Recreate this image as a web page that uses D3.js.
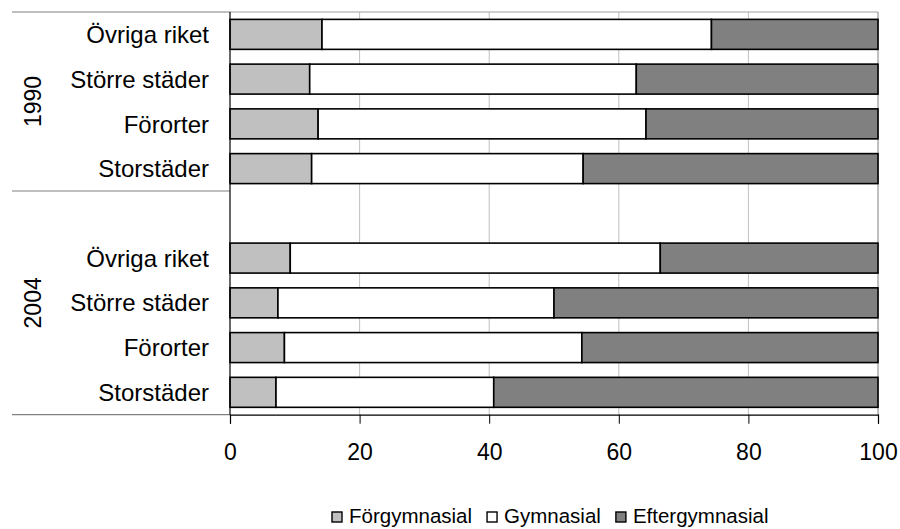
<!DOCTYPE html>
<html>
<head>
<meta charset="utf-8">
<script src="https://cdn.jsdelivr.net/npm/d3@7"></script>
<style>
  body { margin: 0; background: #fff; }
  text { font-family: "Liberation Sans", Arial, sans-serif; fill: #000; }
</style>
</head>
<body>
<div id="chart"></div>
<script>
var width = 900;
var height = 529;

// data (percent)
var years = ['1990', '2004'];
var regions = ['Övriga riket', 'Större städer', 'Förorter', 'Storstäder'];
var keys = ['Förgymnasial', 'Gymnasial', 'Eftergymnasial'];
var forgymnasial1990 = [14.2, 12.3, 13.6, 12.6];
var gymnasial1990 = [60.1, 50.4, 50.6, 41.9];
var eftergymnasial1990 = [25.7, 37.3, 35.8, 45.5];
var forgymnasial2004 = [9.3, 7.4, 8.4, 7.1];
var gymnasial2004 = [57.1, 42.6, 45.9, 33.6];
var eftergymnasial2004 = [33.6, 50.0, 45.7, 59.3];
var xTicks = [0, 20, 40, 60, 80, 100];

var colorArray = ['#c0c0c0', '#ffffff', '#808080'];

var rows = [];
regions.forEach((r, i) => rows.push({
    slot: '1990|' + r, region: r,
    'Förgymnasial': forgymnasial1990[i], 'Gymnasial': gymnasial1990[i], 'Eftergymnasial': eftergymnasial1990[i]
}));
var blankSlot = '2004|';
regions.forEach((r, i) => rows.push({
    slot: '2004|' + r, region: r,
    'Förgymnasial': forgymnasial2004[i], 'Gymnasial': gymnasial2004[i], 'Eftergymnasial': eftergymnasial2004[i]
}));

var slots = rows.slice(0, 4).map(d => d.slot).concat([blankSlot]).concat(rows.slice(4).map(d => d.slot));

var plotLeft = 230, plotRight = 878, plotTop = 12, plotBottom = 414.7;

var x = d3.scaleLinear().domain([0, 100]).range([plotLeft, plotRight]);
var y = d3.scaleBand().domain(slots).range([plotTop, plotBottom]).paddingInner(0.33).paddingOuter(0.165);

var series = d3.stack().keys(keys).order(d3.stackOrderNone).offset(d3.stackOffsetNone)(rows);

var svg = d3.select('#chart')
    .append('svg')
    .attr('width', width)
    .attr('height', height);

// gridlines
svg.append('g')
    .selectAll('line')
    .data(xTicks.slice(1))
    .enter()
    .append('line')
    .attr('x1', d => x(d)).attr('x2', d => x(d))
    .attr('y1', plotTop).attr('y2', plotBottom)
    .attr('stroke', d => d === 100 ? '#808080' : '#c0c0c0')
    .attr('stroke-width', 1);

svg.append('line')
    .attr('x1', plotLeft).attr('x2', plotRight)
    .attr('y1', plotTop).attr('y2', plotTop)
    .attr('stroke', '#a0a0a0');

// bars
svg.append('g')
    .selectAll('g')
    .data(series)
    .enter()
    .append('g')
    .attr('fill', (d, i) => colorArray[i])
    .selectAll('rect')
    .data(d => d)
    .enter()
    .append('rect')
    .attr('x', d => x(d[0]))
    .attr('y', d => y(d.data.slot))
    .attr('width', d => x(d[1]) - x(d[0]))
    .attr('height', y.bandwidth())
    .attr('stroke', '#000')
    .attr('stroke-width', 1.6);

// category labels
svg.append('g')
    .selectAll('text')
    .data(rows)
    .enter()
    .append('text')
    .attr('x', 209)
    .attr('y', d => y(d.slot) + y.bandwidth() / 2)
    .attr('dy', '0.36em')
    .attr('text-anchor', 'end')
    .style('font-size', '24px')
    .text(d => d.region);

// group separators on the left
var sepY = [plotTop, y(blankSlot) - y.step() * y.paddingInner() / 2, plotBottom];
svg.append('g')
    .selectAll('line')
    .data(sepY)
    .enter()
    .append('line')
    .attr('x1', 12).attr('x2', plotLeft)
    .attr('y1', d => d).attr('y2', d => d)
    .attr('stroke', '#808080')
    .attr('stroke-width', 1.2);

// year labels
svg.append('g')
    .selectAll('text')
    .data(years)
    .enter()
    .append('text')
    .attr('transform', (d, i) => `translate(33, ${(sepY[i] + sepY[i + 1]) / 2}) rotate(-90)`)
    .attr('dy', '0.36em')
    .attr('text-anchor', 'middle')
    .style('font-size', '23px')
    .text(d => d);

// left axis line
svg.append('line')
    .attr('x1', plotLeft).attr('x2', plotLeft)
    .attr('y1', plotTop).attr('y2', plotBottom)
    .attr('stroke', '#000')
    .attr('stroke-width', 1.2);

// bottom axis
var axis = d3.axisBottom(x).tickValues(xTicks).tickSize(9).tickPadding(20);
var gx = svg.append('g')
    .attr('transform', `translate(0, ${plotBottom})`)
    .call(axis);
gx.select('.domain').attr('stroke', '#000').attr('stroke-width', 1.2);
gx.selectAll('.tick line').attr('stroke', '#000');
gx.selectAll('text')
    .style('font-family', '"Liberation Sans", Arial, sans-serif')
    .style('font-size', '23px')
    .attr('fill', '#000');

// legend
var legend = svg.append('g');
var lx = 332;
keys.forEach((k, i) => {
    legend.append('rect')
        .attr('x', lx).attr('y', 512)
        .attr('width', 10).attr('height', 10)
        .attr('fill', colorArray[i])
        .attr('stroke', '#000')
        .attr('stroke-width', 1.4);
    var t = legend.append('text')
        .attr('x', lx + 17)
        .attr('y', 523)
        .style('font-size', '20.5px')
        .text(k);
    lx = lx + 17 + t.node().getComputedTextLength() + 15;
});
</script>
</body>
</html>
